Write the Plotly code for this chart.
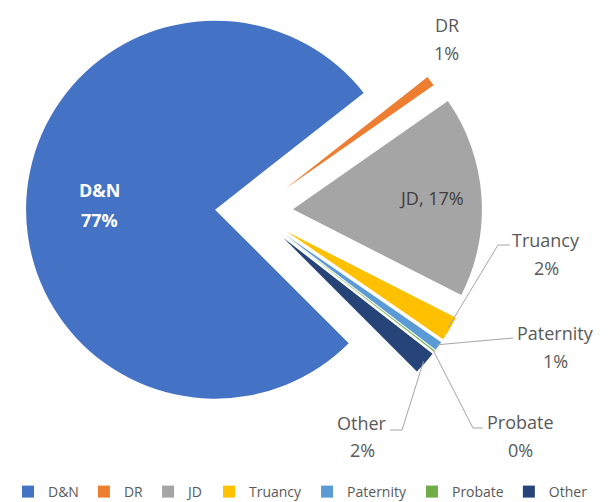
import math
import plotly.graph_objects as go

# ---- data ----
labels = ["D&N", "DR", "JD", "Truancy", "Paternity", "Probate", "Other"]
values = [76.9, 0.9, 17.2, 2.1, 0.8, 0.1, 2.0]
colors = ["#4472C4", "#ED7D31", "#A5A5A5", "#FFC000", "#5B9BD5", "#70AD47", "#264478"]

# ---- layout constants (page pixels) ----
PAGE_W, PAGE_H = 610, 502
OFF = 8                      # body margin of the html page
W, H = PAGE_W - OFF, PAGE_H - OFF + 6
R = 189            # pie radius
EXPLODE = 39       # explosion distance of every slice
CX, CY = 254, 212  # pie centre (page px)
START = 135        # first slice starts here (deg, clockwise from 12 o'clock)

FONT = "Open Sans"
TXT = "#595959"
LINE = "#A6A6A6"
FS = 18

# outside label positions: (x, y_name, y_pct) in page px
outside_pos = {
    "DR": (447, 25, 53),
    "Truancy": (546, 240, 268),
    "Paternity": (555, 333, 361),
    "Probate": (520, 422, 450),
    "Other": (362, 423, 450),
}
# leader line bend/end points (page px)
leaders = {
    "Truancy": [(498, 245), (510, 245)],
    "Paternity": [(513, 338)],
    "Probate": [(473, 428), (483, 428)],
    "Other": [(402, 430), (390, 430)],
}


def px(x):
    return (x - OFF) / W


def py(y):
    return 1 - (y - OFF) / H


def unit(a):
    r = math.radians(a)
    return math.sin(r), -math.cos(r)


total = sum(values)
pcts = [round(v / total * 100) for v in values]

fig = go.Figure()

# legend carrier: full colours, drawn at a negligible size inside the D&N area
fig.add_trace(go.Pie(
    labels=labels, values=values, marker=dict(colors=colors),
    sort=False, direction="clockwise", rotation=START,
    textinfo="none", hoverinfo="skip", showlegend=True,
    domain=dict(x=[px(100), px(100) + 1e-4], y=[py(300), py(300) + 1e-4]),
))

cum = 0.0
geo = {}
for i, (lab, v) in enumerate(zip(labels, values)):
    a0 = START + cum / total * 360
    cum += v
    a1 = START + cum / total * 360
    mid = (a0 + a1) / 2
    dx, dy = unit(mid)
    vx, vy = CX + EXPLODE * dx, CY + EXPLODE * dy
    r = min(R, vy - OFF)
    geo[lab] = (vx, vy, mid, r)
    cols = ["rgba(0,0,0,0)"] * len(labels)
    cols[i] = colors[i]
    fig.add_trace(go.Pie(
        labels=labels, values=values, marker=dict(colors=cols, line=dict(width=0)),
        sort=False, direction="clockwise", rotation=START,
        textinfo="none", hoverinfo="skip", showlegend=False,
        domain=dict(x=[px(vx - r), px(vx + r)], y=[py(vy + r), py(vy - r)]),
    ))

annotations = []
shapes = []


def add_text(x, y, text, color=TXT):
    annotations.append(dict(x=px(x), y=py(y), text=text, showarrow=False,
                            xref="paper", yref="paper", xanchor="center", yanchor="middle",
                            font=dict(family=FONT, size=FS, color=color)))


# inside labels
add_text(99, 190, "<b>%s</b>" % labels[0], "white")
add_text(99, 220, "<b>%d%%</b>" % pcts[0], "white")
add_text(431, 198, "%s, %d%%" % (labels[2], pcts[2]), "#404040")

for lab, (lx, yn, yp) in outside_pos.items():
    add_text(lx, yn, lab)
    add_text(lx, yp, "%d%%" % pcts[labels.index(lab)])

for lab, pts in leaders.items():
    vx, vy, mid, r = geo[lab]
    dx, dy = unit(mid)
    sx, sy = vx + (r - 2) * dx, vy + (r - 2) * dy
    path = "M %f,%f" % (px(sx), py(sy))
    for (x, y) in pts:
        path += " L %f,%f" % (px(x), py(y))
    shapes.append(dict(type="path", path=path, xref="paper", yref="paper",
                       line=dict(color=LINE, width=1)))

fig.update_layout(
    width=W, height=H,
    margin=dict(l=0, r=0, t=0, b=0),
    paper_bgcolor="white", plot_bgcolor="white",
    font=dict(family=FONT, color=TXT),
    showlegend=True,
    legend=dict(orientation="h", x=0, xanchor="left", y=0, yanchor="bottom",
                font=dict(family=FONT, size=14, color=TXT)),
    annotations=annotations,
    shapes=shapes,
)

fig.write_html("out.html")
